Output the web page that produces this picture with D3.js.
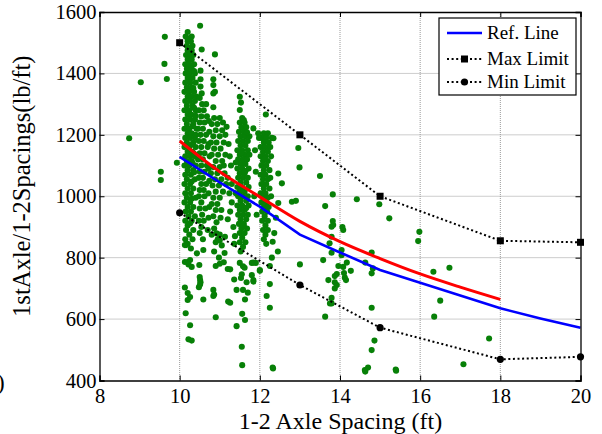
<!DOCTYPE html>
<html><head><meta charset="utf-8">
<script src="https://cdn.jsdelivr.net/npm/d3@7"></script>
<style>body{margin:0;background:#fff}svg{display:block}</style>
</head><body><svg id="c" width="602" height="434"></svg>
<script>
// ---- data ----
const xTicks = [8,10,12,14,16,18,20];
const yTicks = [400,600,800,1000,1200,1400,1600];
const legendLabels = ["Ref. Line","Max Limit","Min Limit"];
const refX = [10,11,12,13,14,15,16,17,18,19,20];
const refY = [1128,1045,966,875,817,760,718,677,635,602,572];
const fitX = [10,11,12,13,14,15,16,17,18];
const fitY = [1180,1080,998,918,852,797,747,704,664];
const limX = [10,13,15,18,20];
const maxY = [1500,1200,1000,855,850];
const minY = [946,711,572,469,477];

// measured trucks: [axle spacing ft, load lb/ft]
const clusterA = [[10.2,1535],[10.15,1520],[10.3,1520],[10.2,1505],[10.28,1505],[10.18,1490],[10.32,1490],[10.2,1475],[10.3,1475],
[10.16,1460],[10.26,1460],[10.34,1460],[10.2,1445],[10.3,1445],[10.14,1430],[10.24,1430],[10.36,1430],[10.18,1415],[10.3,1415],
[10.15,1400],[10.25,1400],[10.38,1400],[10.2,1385],[10.32,1385],[10.14,1370],[10.26,1370],[10.4,1370],[10.18,1355],[10.3,1355],
[10.12,1340],[10.24,1340],[10.36,1340],[10.2,1325],[10.3,1325],[10.42,1325],[10.14,1310],[10.26,1310],[10.38,1310],[10.18,1295],[10.32,1295],
[10.12,1280],[10.24,1280],[10.4,1280],[10.2,1265],[10.3,1265],[10.14,1250],[10.26,1250],[10.38,1250],[10.18,1235],[10.34,1235],
[10.12,1220],[10.24,1220],[10.42,1220],[10.2,1205],[10.3,1205],[10.14,1190],[10.26,1190],[10.38,1190],[10.18,1175],[10.34,1175],
[10.12,1160],[10.24,1160],[10.4,1160],[10.2,1145],[10.32,1145],[10.14,1130],[10.26,1130],[10.38,1130],[10.18,1115],[10.3,1115],
[10.12,1100],[10.24,1100],[10.4,1100],[10.2,1085],[10.34,1085],[10.14,1070],[10.28,1070],[10.18,1055],[10.38,1055],[10.12,1040],[10.26,1040],
[10.2,1025],[10.34,1025],[10.14,1010],[10.28,1010],[10.18,995],[10.4,995],[10.12,980],[10.26,980],[10.2,965],[10.34,965],
[10.15,950],[10.28,950],[10.22,935],[10.38,935],[10.14,920],[10.3,920],[10.2,905],[10.16,890],[10.34,890],[10.24,875],[10.14,860],[10.32,860],[10.2,845],[10.28,830],
[10.24,1512],[10.24,1482],[10.36,1408],[10.34,1352],[10.36,1288],[10.32,1228],[10.3,1168],[10.32,1108],[10.3,1048],[10.3,992],[10.26,912],[10.36,1078],[10.36,1138],[10.4,1200],[10.4,1262]];
const clusterA2 = [[10.5,1320],[10.56,1300],[10.66,1300],[10.48,1280],[10.6,1280],[10.54,1260],[10.68,1260],[10.5,1240],[10.62,1240],
[10.46,1220],[10.58,1220],[10.52,1200],[10.66,1200],[10.48,1180],[10.6,1180],[10.54,1160],[10.7,1160],[10.5,1140],[10.62,1140],
[10.46,1120],[10.58,1120],[10.54,1100],[10.68,1100],[10.5,1080],[10.62,1080],[10.48,1060],[10.58,1060],[10.54,1040],[10.66,1040],
[10.5,1020],[10.6,1020],[10.48,1000],[10.62,1000],[10.54,980],[10.5,960],[10.64,960],[10.56,940],[10.48,920],[10.6,920],[10.54,900],[10.5,880],[10.58,860],
[10.73,1245],[10.74,1210],[10.72,1170],[10.75,1130],[10.72,1090],[10.74,1050],[10.72,1010],[10.74,965],[10.72,930],[10.7,890]];
const clusterB = [[10.86,1255],[11.0,1255],[10.8,1235],[10.94,1235],[10.9,1215],[11.06,1215],[10.84,1195],[11.0,1195],
[10.78,1175],[10.92,1175],[11.1,1175],[10.86,1155],[11.02,1155],[10.8,1135],[10.96,1135],[11.14,1135],[10.9,1115],[11.06,1115],
[10.84,1095],[11.0,1095],[10.78,1075],[10.94,1075],[11.12,1075],[10.88,1055],[11.04,1055],[10.82,1035],[10.98,1035],[10.9,1015],[11.08,1015],
[10.84,995],[11.0,995],[10.8,975],[10.94,975],[10.9,955],[11.04,955],[10.84,935],[10.92,915],[10.86,895],[10.8,875],[11.0,875],[10.9,850],[10.86,820],
[10.95,860],[11.05,840],[11.12,815],[10.98,800],[10.92,879],[11.0,857],[11.13,868],[11.08,1240],[11.14,1200],[11.1,1100],[11.16,1040],[11.02,930]];
const clusterC = [[11.56,1255],[11.5,1240],[11.62,1240],[11.54,1225],[11.66,1225],[11.48,1210],[11.6,1210],[11.52,1195],[11.64,1195],[11.74,1195],
[11.46,1180],[11.58,1180],[11.7,1180],[11.52,1165],[11.64,1165],[11.44,1150],[11.56,1150],[11.7,1150],[11.5,1135],[11.62,1135],[11.74,1135],
[11.46,1120],[11.58,1120],[11.68,1120],[11.52,1105],[11.64,1105],[11.44,1090],[11.56,1090],[11.72,1090],[11.5,1075],[11.62,1075],
[11.46,1060],[11.58,1060],[11.7,1060],[11.52,1045],[11.66,1045],[11.44,1030],[11.56,1030],[11.72,1030],[11.5,1015],[11.62,1015],
[11.46,1000],[11.58,1000],[11.7,1000],[11.52,985],[11.66,985],[11.44,970],[11.56,970],[11.72,970],[11.5,955],[11.62,955],
[11.46,940],[11.58,940],[11.7,940],[11.52,925],[11.66,925],[11.48,910],[11.6,910],[11.54,895],[11.68,895],[11.5,880],[11.62,880],
[11.56,865],[11.5,850],[11.64,850],[11.58,835],[11.52,820],
[11.22,1170],[11.25,1130],[11.28,1100],[11.2,1060],[11.3,1040],[11.24,1010],[11.3,980],[11.26,950],[11.2,925],[11.34,900],[11.38,870],[11.36,845],
[11.84,1221],[11.88,1150],[11.9,1080],[11.86,1000],[11.92,940],[11.6,1248],[11.68,1208],[11.54,1142],[11.64,1082],[11.54,1022],[11.66,962],[11.6,902],[11.4,1110],[11.4,1010]];
const clusterD = [[12.1,1205],[12.2,1205],[12.04,1190],[12.16,1190],[12.3,1190],[12.1,1175],[12.22,1175],[12.02,1160],[12.14,1160],[12.26,1160],
[12.08,1145],[12.2,1145],[12.02,1130],[12.14,1130],[12.28,1130],[12.08,1115],[12.2,1115],[12.04,1100],[12.16,1100],[12.1,1085],[12.24,1085],
[12.02,1070],[12.14,1070],[12.08,1055],[12.2,1055],[12.04,1040],[12.16,1040],[12.1,1025],[12.24,1025],[12.02,1010],[12.14,1010],
[12.08,995],[12.2,995],[12.04,980],[12.16,980],[12.1,965],[12.22,965],[12.06,950],[12.18,950],[12.12,935],[12.06,920],[12.2,920],
[12.14,905],[12.08,890],[12.2,890],[12.14,875],[12.1,860],[12.16,845],
[12.4,930],[12.36,880],[12.45,820],[12.3,800],[12.55,1042],[12.46,1074],[12.8,982],[12.26,1060],[12.28,1000],[12.12,1122],[12.1,1000]];
const sparse = [[10.51,1555],[9.63,1519],[10.2,1514],[9.62,1431],[9.68,1382],[9.03,1371],[10.88,1462],[10.55,1478],[10.52,1409],
[10.84,1381],[10.52,1381],[10.52,1357],[10.84,1362],[10.55,1335],[10.84,1335],[10.84,1290],[10.88,1340],
[11.5,1324],[11.53,1305],[11.5,1281],[12.15,1266],[11.17,1226],[11.96,1205],[11.98,1190],
[12.96,1157],[12.99,1094],[13.5,1066],[13.82,1006],[13.63,968],[12.9,985],[8.74,1189],[9.53,1080],[9.53,1053],[9.93,1109],[12.34,1189],[12.46,978],
[10.16,841],[10.13,841],[10.43,814],[10.59,825],[10.26,792],[10.2,786],[10.13,786],[10.22,778],[10.3,770],[10.49,776],[10.9,773],[11.0,780],[11.1,785],[11.2,763],
[10.5,737],[10.52,720],[10.48,704],[10.13,703],[10.2,685],[10.26,672],[10.2,662],[10.59,664],[10.84,695],[10.84,675],[11.21,657],
[10.15,619],[10.9,606],[10.26,580],[10.22,534],[10.3,530],[10.51,727],[10.51,713],[10.86,680],
[11.5,783],[11.58,772],[11.62,767],[11.8,783],[11.9,783],[12.0,757],[12.25,773],[11.26,762],[11.55,746],[11.53,734],[11.8,743],[11.36,729],
[11.67,720],[11.84,722],[12.25,714],[11.42,695],[11.58,695],[11.7,686],[12.17,675],[11.63,664],[11.26,653],[12.25,637],[11.56,617],[11.63,597],
[11.42,577],[11.55,510],[11.56,450],[12.32,442],[12.33,439],[12.0,760],[11.84,784],[11.84,727],[12.32,852],[13.0,778],
[13.58,792],[13.63,608],[13.71,727],[13.75,651],[13.74,847],[13.83,906],[13.92,711],[13.92,747],
[14.42,990],[14.98,974],[15.23,928],[13.82,919],[14.06,900],[14.08,890],[13.79,901],[13.79,868],[15.98,884],[15.95,854],
[14.04,825],[14.04,808],[14.79,817],[13.79,816],[14.17,784],[14.08,770],[13.96,773],[14.27,757],[14.63,784],[14.82,765],[14.79,749],
[16.33,754],[16.73,767],[16.5,660],[16.35,608],[14.79,637],[13.87,740],[13.87,720],[13.87,700],[14.1,750],[14.12,735],[14.15,727],
[13.79,669],[13.79,651],[14.86,530],[14.79,499],[14.62,434],[14.7,442],[15.39,436],[17.08,453],[17.72,537],[14.63,429],[15.4,432]];

// ---- layout ----
const svg = d3.select("#c");
const L = 99.5, R = 580.5, T = 12, B = 380.5;
const x = d3.scaleLinear().domain([8,20]).range([L,R]);
const y = d3.scaleLinear().domain([400,1600]).range([B,T]);
const font = "'Liberation Serif','Times New Roman',serif";

// grid
const g = svg.append("g");
g.selectAll(".gx").data(xTicks.slice(1,-1)).join("line")
  .attr("x1",d=>x(d)).attr("x2",d=>x(d)).attr("y1",T).attr("y2",B)
  .attr("stroke","#9a9a9a").attr("stroke-width",1).attr("stroke-dasharray","1,1");
g.selectAll(".gy").data(yTicks.slice(1,-1)).join("line")
  .attr("y1",d=>y(d)).attr("y2",d=>y(d)).attr("x1",L).attr("x2",R)
  .attr("stroke","#9a9a9a").attr("stroke-width",1).attr("stroke-dasharray","1,1");

// scatter
const pts = clusterA.concat(clusterA2, clusterB, clusterC, clusterD, sparse);
svg.append("g").selectAll("circle").data(pts).join("circle")
  .attr("cx",d=>x(d[0])).attr("cy",d=>y(d[1])).attr("r",3.05)
  .attr("fill","#078007");

// lines
const lineGen = d3.line().x(d=>x(d[0])).y(d=>y(d[1]));
svg.append("path").datum(refX.map((v,i)=>[v,refY[i]])).attr("d",lineGen)
  .attr("fill","none").attr("stroke","#0000ff").attr("stroke-width",2.6);
svg.append("path").datum(fitX.map((v,i)=>[v,fitY[i]])).attr("d",lineGen.curve(d3.curveMonotoneX))
  .attr("fill","none").attr("stroke","#ff0000").attr("stroke-width",3);
lineGen.curve(d3.curveLinear);
const maxPts = limX.map((v,i)=>[v,maxY[i]]), minPts = limX.map((v,i)=>[v,minY[i]]);
[maxPts,minPts].forEach(p=>{
  svg.append("path").datum(p).attr("d",lineGen).attr("fill","none")
    .attr("stroke","#000").attr("stroke-width",2).attr("stroke-dasharray","2,2.6");
});
svg.append("g").selectAll("rect").data(maxPts).join("rect")
  .attr("x",d=>x(d[0])-3.5).attr("y",d=>y(d[1])-3.5).attr("width",7).attr("height",7).attr("fill","#000");
svg.append("g").selectAll("circle").data(minPts).join("circle")
  .attr("cx",d=>x(d[0])).attr("cy",d=>y(d[1])).attr("r",3.6).attr("fill","#000");

// axes (inward ticks, box)
const ax = svg.append("g").attr("font-family",font);
const bottom = ax.append("g").attr("transform",`translate(0,${B})`)
  .call(d3.axisBottom(x).tickValues(xTicks).tickSize(-5).tickPadding(8).tickFormat(d3.format("d")));
const left = ax.append("g").attr("transform",`translate(${L},0)`)
  .call(d3.axisLeft(y).tickValues(yTicks).tickSize(-5).tickPadding(3).tickFormat(d3.format("d")));
ax.append("g").attr("transform",`translate(0,${T})`)
  .call(d3.axisTop(x).tickValues(xTicks).tickSize(-5).tickFormat(""));
ax.append("g").attr("transform",`translate(${R},0)`)
  .call(d3.axisRight(y).tickValues(yTicks).tickSize(-5).tickFormat(""));
ax.selectAll(".domain").attr("stroke","#000").attr("stroke-width",1.3);
ax.selectAll(".tick line").attr("stroke","#000");
bottom.selectAll("text").attr("font-size",20.5).attr("fill","#000").attr("font-family",font);
left.selectAll("text").attr("font-size",20.5).attr("fill","#000").attr("font-family",font);

// axis titles
svg.append("text").attr("x",(L+R)/2 + 0.5).attr("y",429).attr("text-anchor","middle")
  .attr("font-family",font).attr("font-size",24).text("1-2 Axle Spacing (ft)");
svg.append("text").attr("transform",`translate(30,${(T+B)/2 - 10}) rotate(-90)`).attr("text-anchor","middle")
  .attr("font-family",font).attr("font-size",24.5).text("1stAxle/1-2Spacings(lb/ft)");
svg.append("text").attr("x",-3).attr("y",390).attr("font-family",font).attr("font-size",23).text(")");

// legend
const lg = svg.append("g").attr("font-family",font);
lg.append("rect").attr("x",439).attr("y",18).attr("width",137).attr("height",77)
  .attr("fill","#fff").attr("stroke","#000").attr("stroke-width",1.2);
const rows = [33,59,82];
legendLabels.forEach((t,i)=>{
  const yy = rows[i];
  const ln = lg.append("line").attr("x1",447).attr("x2",482).attr("y1",yy).attr("y2",yy);
  if(i===0) ln.attr("stroke","#0000ff").attr("stroke-width",2.6);
  else {
    ln.attr("stroke","#000").attr("stroke-width",2).attr("stroke-dasharray","2,2.6");
    if(i===1) lg.append("rect").attr("x",461).attr("y",yy-3.5).attr("width",7).attr("height",7).attr("fill","#000");
    else lg.append("circle").attr("cx",464.5).attr("cy",yy).attr("r",3.6).attr("fill","#000");
  }
  lg.append("text").attr("x",487).attr("y",yy+6).attr("font-size",19).text(t);
});
</script></body></html>
